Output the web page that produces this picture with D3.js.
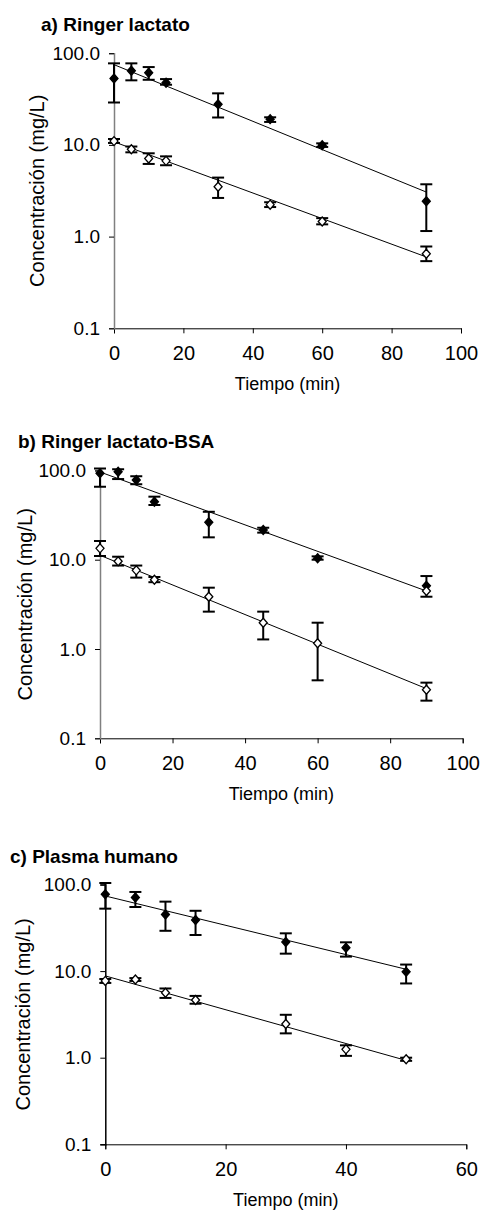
<!DOCTYPE html>
<html><head><meta charset="utf-8">
<script src="https://cdn.jsdelivr.net/npm/d3@7"></script>
<style>
html,body{margin:0;padding:0;background:#fff;}
svg text{font-family:"Liberation Sans",Arial,sans-serif;fill:#000;}
</style></head>
<body>
<svg id="chart" width="480" height="1218"></svg>
<script>
// ---- Data ----
const yTicks = [0.1, 1, 10, 100];
const titles = ["a) Ringer lactato", "b) Ringer lactato-BSA", "c) Plasma humano"];
const xLabel = "Tiempo (min)";
const yLabel = "Concentración (mg/L)";

// Panel a: Ringer lactato
const timesA = [0, 5, 10, 15, 30, 45, 60, 90];
const aFilled   = [53, 64.4, 61.2, 47.6, 27.7, 19.1, 9.9, 2.43];
const aFilledLo = [29, 50.6, 51.3, 45.3, 19.9, 17.8, 9.5, 1.15];
const aFilledHi = [77.5, 77.5, 70.6, 52.2, 36.5, 20.0, 10.4, 3.72];
const aOpen   = [11.0, 8.97, 7.1, 6.7, 3.5, 2.23, 1.46, 0.65];
const aOpenLo = [10.5, 8.3, 6.2, 6.0, 2.64, 2.1, 1.36, 0.54];
const aOpenHi = [11.6, 9.6, 8.1, 7.5, 4.4, 2.37, 1.59, 0.78];
const aFitFilled = [[0, 75], [90, 3.06]];
const aFitOpen = [[0, 10.8], [90, 0.60]];
const xTicksA = [0, 20, 40, 60, 80, 100];

// Panel b: Ringer lactato-BSA
const timesB = [0, 5, 10, 15, 30, 45, 60, 90];
const bFilled   = [92.8, 96.5, 78, 44.6, 26.2, 21.5, 10.4, 5.1];
const bFilledLo = [65.6, 80, 70, 41, 17.8, 20.1, 10.0, 3.85];
const bFilledHi = [105, 103, 86, 50.8, 34.4, 22.8, 10.9, 6.56];
const bExtraOpen = [[90, 4.46]];
const bOpen   = [13.4, 9.6, 7.6, 5.97, 3.85, 1.97, 1.16, 0.35];
const bOpenLo = [11.0, 8.6, 6.3, 5.6, 2.62, 1.28, 0.446, 0.264];
const bOpenHi = [16.2, 10.8, 8.6, 6.4, 4.86, 2.62, 1.97, 0.42];
const bFitFilled = [[0, 96], [90, 4.46]];
const bFitOpen = [[0, 11.2], [90, 0.36]];
const xTicksB = [0, 20, 40, 60, 80, 100];

// Panel c: Plasma humano
const timesC = [0, 5, 10, 15, 30, 40, 50];
const cFilled   = [77, 70.7, 45, 38.9, 21.7, 18.6, 9.8];
const cFilledLo = [52.6, 55, 29.2, 26.1, 15.9, 14.7, 7.2];
const cFilledHi = [104, 82, 63.4, 49.7, 27.3, 21.5, 11.9];
const cOpen   = [7.7, 8.0, 5.63, 4.64, 2.45, 1.25, 0.96];
const cOpenLo = [7.3, 7.7, 4.9, 4.2, 1.91, 1.05, 0.92];
const cOpenHi = [8.1, 8.3, 6.3, 5.17, 3.13, 1.39, 1.0];
const cFitFilled = [[0, 73.7], [50, 10.5]];
const cFitOpen = [[0, 8.8], [50, 0.93]];
const xTicksC = [0, 20, 40, 60];

// ---- Layout ----
const panels = [
  {title: titles[0], titleX: 41, titleY: 31, left: 114, right: 461, top: 53.2, bottom: 328.3,
   xMax: 100, xTicks: xTicksA, yAxisColor: "#808080", yLabX: 37,
   times: timesA, filled: [aFilled, aFilledLo, aFilledHi], open: [aOpen, aOpenLo, aOpenHi],
   fits: [aFitFilled, aFitOpen], extraOpen: []},
  {title: titles[1], titleX: 18, titleY: 448, left: 100, right: 462.7, top: 470.4, bottom: 738.3,
   xMax: 100, xTicks: xTicksB, yAxisColor: "#808080", yLabX: 25,
   times: timesB, filled: [bFilled, bFilledLo, bFilledHi], open: [bOpen, bOpenLo, bOpenHi],
   fits: [bFitFilled, bFitOpen], extraOpen: bExtraOpen},
  {title: titles[2], titleX: 10, titleY: 862.7, left: 105.3, right: 466.3, top: 884.5, bottom: 1144.3,
   xMax: 60, xTicks: xTicksC, yAxisColor: "#000", yLabX: 23,
   times: timesC, filled: [cFilled, cFilledLo, cFilledHi], open: [cOpen, cOpenLo, cOpenHi],
   fits: [cFitFilled, cFitOpen], extraOpen: []}
];

const svg = d3.select("#chart");
const FS = 18;
const diamond = (cx, cy) => `M${cx},${cy-4.5}L${cx+4},${cy}L${cx},${cy+4.5}L${cx-4},${cy}Z`;

panels.forEach(p => {
  const g = svg.append("g");
  const x = d3.scaleLinear().domain([0, p.xMax]).range([p.left, p.right]);
  const y = d3.scaleLog().domain([0.1, 100]).range([p.bottom, p.top]);

  g.append("text").attr("x", p.titleX).attr("y", p.titleY)
    .attr("font-size", 19).attr("font-weight", "bold").text(p.title);

  // x axis
  const xa = g.append("g").attr("transform", `translate(0,${p.bottom})`)
    .call(d3.axisBottom(x).tickValues(p.xTicks).tickSize(5).tickPadding(13).tickFormat(d3.format("d")));
  xa.select(".domain").attr("stroke", "#000").attr("stroke-width", 1);
  xa.selectAll(".tick line").attr("stroke", "#000");
  xa.selectAll(".tick text").attr("font-size", 20).attr("font-family", "Liberation Sans, Arial, sans-serif").attr("fill", "#000");

  // y axis
  const ya = g.append("g").attr("transform", `translate(${p.left},0)`)
    .call(d3.axisLeft(y).tickValues(yTicks).tickSize(5).tickPadding(9).tickFormat(d3.format(".1f")));
  ya.select(".domain").attr("stroke", p.yAxisColor).attr("stroke-width", 1.5);
  ya.selectAll(".tick line").attr("stroke", "#000");
  ya.selectAll(".tick text").attr("font-size", 19).attr("font-family", "Liberation Sans, Arial, sans-serif").attr("fill", "#000");

  // axis titles
  g.append("text").attr("x", (p.left + p.right) / 2).attr("y", p.bottom + 62)
    .attr("text-anchor", "middle").attr("font-size", FS).text(xLabel);
  g.append("text").attr("transform", `translate(${p.yLabX},${(p.top + p.bottom) / 2}) rotate(-90)`)
    .attr("text-anchor", "middle").attr("dominant-baseline", "central").attr("font-size", 20).text(yLabel);

  // fit lines
  const line = d3.line().x(d => x(d[0])).y(d => y(d[1]));
  p.fits.forEach(f => {
    g.append("path").attr("d", line(f)).attr("fill", "none").attr("stroke", "#000").attr("stroke-width", 1);
  });

  // error bars + markers
  const series = [{v: p.filled, fill: "#000"}, {v: p.open, fill: "#fff"}];
  series.forEach(s => {
    const [vals, lo, hi] = s.v;
    const data = p.times.map((t, i) => ({t, v: vals[i], lo: lo[i], hi: hi[i]}));
    const eg = g.append("g").attr("stroke", "#000").attr("stroke-width", 2);
    data.forEach(d => {
      const cx = x(d.t);
      eg.append("line").attr("x1", cx).attr("x2", cx).attr("y1", y(d.lo)).attr("y2", y(d.hi));
      eg.append("line").attr("x1", cx - 6).attr("x2", cx + 6).attr("y1", y(d.lo)).attr("y2", y(d.lo));
      eg.append("line").attr("x1", cx - 6).attr("x2", cx + 6).attr("y1", y(d.hi)).attr("y2", y(d.hi));
    });
    g.append("g").selectAll("path").data(data).join("path")
      .attr("d", d => diamond(x(d.t), y(d.v)))
      .attr("fill", s.fill).attr("stroke", "#000").attr("stroke-width", 1.3);
  });
  g.append("g").selectAll("path").data(p.extraOpen).join("path")
    .attr("d", d => diamond(x(d[0]), y(d[1])))
    .attr("fill", "#fff").attr("stroke", "#000").attr("stroke-width", 1.3);
});
</script>
</body></html>
